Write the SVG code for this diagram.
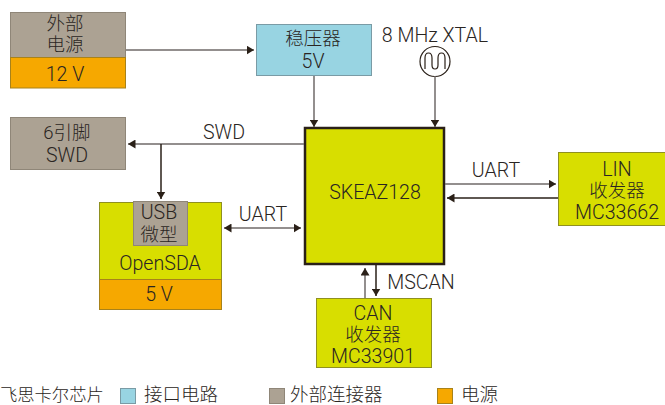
<svg xmlns="http://www.w3.org/2000/svg" width="665" height="405" viewBox="0 0 665 405">
<style>
text{font-family:"Roboto","Liberation Sans","Noto Sans CJK SC",sans-serif;font-weight:300;font-size:19.600px;fill:#2a2522;text-anchor:middle}
.z{font-size:18.500px}
.leg{text-anchor:start;font-size:18.500px}
.g{fill:#aca293;stroke:#8f8678;stroke-width:1}
.o{fill:#f6a800;stroke:#a8821a;stroke-width:1}
.b{fill:#98d4e2;stroke:#7a9ba5;stroke-width:1}
.y{fill:#d8de00;stroke:#8f9020;stroke-width:1}
.c{stroke:#6f6a68;stroke-width:1.5;fill:none}
.k{stroke:#2a2018;stroke-width:1.5;fill:none}
</style>
<defs>
<marker id="a" markerUnits="userSpaceOnUse" markerWidth="8" markerHeight="9" refX="7.500" refY="4.500" orient="auto-start-reverse"><path d="M0 0L7.500 4.500L0 9Z" fill="#2a2018"/></marker>
</defs>
<g id="ext-power"><rect class="g" x="10.500" y="12.500" width="115" height="46"/><rect class="o" x="10.500" y="57.500" width="115" height="30.500"/><text class="z" x="65" y="30">外部</text><text class="z" x="65" y="51">电源</text><text x="65" y="81">12 V</text></g>
<g id="regulator"><rect class="b" x="256.500" y="24.500" width="115" height="51"/><text class="z" x="313" y="45">稳压器</text><text x="313" y="68">5V</text></g>
<g id="xtal"><text x="435" y="42">8 MHz XTAL</text><circle cx="435" cy="61.500" r="15" fill="#fff" stroke="#2a2018" stroke-width="1.200"/><path d="M425 69V58Q425 53 428.500 53Q432 53 432 58V65Q432 69 435 69Q438 69 438 65V58Q438 53 441.500 53Q445 53 445 58V69" fill="none" stroke="#2a2018" stroke-width="1.200"/></g>
<g id="swd6"><rect class="g" x="10.500" y="117.500" width="115" height="52"/><text class="z" x="67" y="139">6引脚</text><text x="67" y="162">SWD</text></g>
<g id="mcu"><rect x="305" y="128" width="139" height="136" fill="#d8de00" stroke="#2a2018" stroke-width="2.500"/><text x="375" y="199">SKEAZ128</text></g>
<g id="lin"><rect class="y" x="558.500" y="152.500" width="107" height="73"/><text x="617" y="176">LIN</text><text class="z" x="617" y="197">收发器</text><text x="617" y="219">MC33662</text></g>
<g id="opensda"><rect class="y" x="99.500" y="202.500" width="122" height="78"/><rect class="o" x="99.500" y="279.500" width="122" height="30"/><rect class="g" x="133.500" y="201.500" width="54" height="44"/><text x="159" y="219">USB</text><text class="z" x="159" y="241">微型</text><text x="160" y="270">OpenSDA</text><text x="159" y="301">5 V</text></g>
<g id="can"><rect class="y" x="316.500" y="298.500" width="115" height="69"/><text x="373" y="320">CAN</text><text class="z" x="373" y="341">收发器</text><text x="373" y="363">MC33901</text></g>
<g id="connectors">
<path class="c" d="M126 50H254" marker-end="url(#a)"/>
<path class="c" d="M314 76V127" marker-end="url(#a)"/>
<path class="c" d="M435 76V127" marker-end="url(#a)"/>
<path class="c" d="M304 144H128" marker-end="url(#a)"/>
<path class="k" d="M161 144V199" marker-end="url(#a)"/>
<path class="c" d="M224 228H301" marker-start="url(#a)" marker-end="url(#a)"/>
<path class="c" d="M445 184H556" marker-end="url(#a)"/>
<path class="k" d="M558 198H447" marker-end="url(#a)"/>
<path class="c" d="M365 298V268" marker-end="url(#a)"/>
<path class="k" d="M376 265V296" marker-end="url(#a)"/>
<text x="224" y="139">SWD</text>
<text x="263" y="221">UART</text>
<text x="496" y="177">UART</text>
<text x="421" y="289">MSCAN</text>
</g>
<g id="legend">
<text class="leg" x="0" y="401" style="font-size:17.300px">飞思卡尔芯片</text>
<rect class="b" x="120.500" y="388.500" width="15" height="15"/>
<text class="leg" x="144" y="401">接口电路</text>
<rect class="g" x="269.500" y="388.500" width="15" height="15"/>
<text class="leg" x="290" y="401">外部连接器</text>
<rect class="o" x="437.500" y="388.500" width="15" height="15"/>
<text class="leg" x="461" y="401">电源</text>
</g>
</svg>
